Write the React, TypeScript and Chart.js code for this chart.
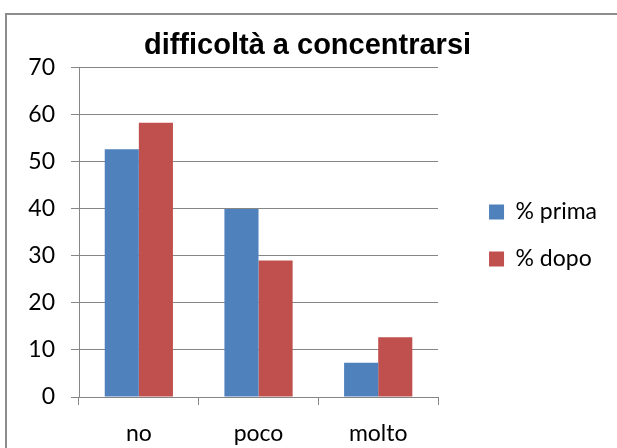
import React, { useEffect, useRef } from "react";
import { Chart, registerables } from "chart.js";

Chart.register(...registerables);

const categories = ["no", "poco", "molto"];
const seriesPrima = [52.7, 40.0, 7.3];
const seriesDopo = [58.3, 29.0, 12.7];
const seriesNames = ["% prima", "% dopo"];
const seriesColors = ["#4F81BD", "#C0504D"];
const titleText = "difficoltà a concentrarsi";
const yMin = 0;
const yMax = 70;
const yStep = 10;

const labelFont = { family: "Lato, 'Open Sans', sans-serif", size: 23 };
const axisGray = "#868686";

const framePlugin = {
  id: "frame",
  beforeDraw(chart: any) {
    const ctx = chart.ctx;
    ctx.save();
    ctx.fillStyle = "#ffffff";
    ctx.fillRect(0, 0, chart.width, chart.height);
    ctx.strokeStyle = "#8c8c8c";
    ctx.lineWidth = 2;
    ctx.strokeRect(6, 14, chart.width + 40, chart.height + 40);
    ctx.restore();
  },
};

export default function App() {
  const ref = useRef<HTMLCanvasElement | null>(null);

  useEffect(() => {
    if (!ref.current) return;
    const chart = new Chart(ref.current, {
      type: "bar",
      data: {
        labels: categories,
        datasets: [
          {
            label: seriesNames[0],
            data: seriesPrima,
            backgroundColor: seriesColors[0],
            borderWidth: 0,
            barPercentage: 1,
            categoryPercentage: 0.57,
          },
          {
            label: seriesNames[1],
            data: seriesDopo,
            backgroundColor: seriesColors[1],
            borderWidth: 0,
            barPercentage: 1,
            categoryPercentage: 0.57,
          },
        ],
      },
      options: {
        responsive: false,
        animation: false,
        devicePixelRatio: 1,
        layout: { padding: { top: 0, left: 8, right: 10, bottom: 0 } },
        plugins: {
          title: {
            display: true,
            text: titleText,
            color: "#000",
            font: { family: "'Liberation Sans', Arial, sans-serif", size: 29, weight: "bold" },
            padding: { top: 29, bottom: 4 },
          },
          legend: {
            display: true,
            position: "right",
            align: "center",
            fullSize: false,
            maxWidth: 220,
            title: { display: true, text: " ", font: { size: 5 }, padding: 0 },
            labels: {
              boxWidth: 15,
              boxHeight: 15,
              padding: 24,
              color: "#000",
              font: labelFont,
            },
          },
          tooltip: { enabled: false },
        },
        scales: {
          x: {
            grid: {
              display: true,
              drawOnChartArea: false,
              drawTicks: true,
              tickLength: 8,
              color: axisGray,
              offset: true,
            },
            border: { display: true, color: axisGray, width: 1 },
            ticks: { color: "#000", font: labelFont, padding: 15, maxRotation: 0 },
            afterFit(s: any) {
              s.height = 51;
            },
          },
          y: {
            min: yMin,
            max: yMax,
            grid: { color: axisGray, tickLength: 8, lineWidth: 1 },
            border: { display: true, color: axisGray, width: 1 },
            ticks: { stepSize: yStep, color: "#000", font: labelFont, padding: 16 },
            afterFit(s: any) {
              s.width = 71;
            },
          },
          spacer: {
            type: "linear",
            position: "right",
            display: true,
            grid: { display: false, drawTicks: false },
            border: { display: false },
            ticks: { display: false },
            afterFit(s: any) {
              s.width = 27;
            },
          },
        },
      },
      plugins: [framePlugin],
    } as any);
    return () => chart.destroy();
  }, []);

  return (
    <div style={{ position: "absolute", left: 0, top: 0, width: 617, height: 448 }}>
      <canvas ref={ref} width={617} height={448} style={{ display: "block" }} />
    </div>
  );
}
